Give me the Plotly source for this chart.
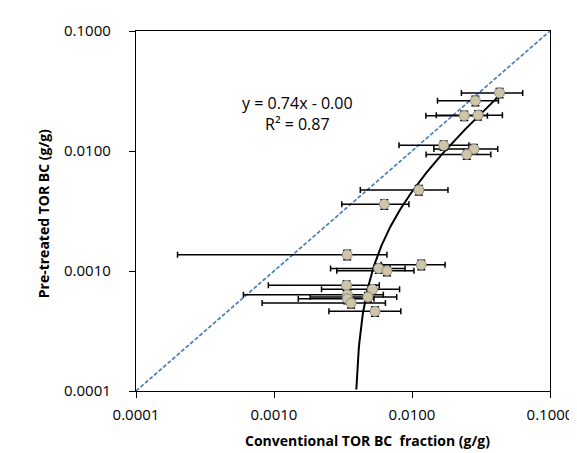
import numpy as np
import plotly.graph_objects as go

# Conventional TOR BC fraction (x) vs pre-treated TOR BC (y), g/g
conv_bc = [0.0431, 0.0288, 0.0239, 0.0301, 0.01695, 0.0281, 0.02495, 0.01122, 0.0063,
           0.00339, 0.01167, 0.00574, 0.00659, 0.00335, 0.00517, 0.0034, 0.00479,
           0.0034, 0.00362, 0.0054]
pretreated_bc = [0.0305, 0.0262, 0.0197, 0.0199, 0.01114, 0.01037, 0.00937, 0.00473, 0.0036,
                 0.001364, 0.001127, 0.001051, 0.001004, 0.000759, 0.000703, 0.000634, 0.000607,
                 0.000587, 0.000541, 0.000461]
conv_err = [0.0203, 0.0135, 0.0113, 0.0151, 0.0089, 0.0137, 0.0123, 0.0070, 0.0032,
            0.00319, 0.0057, 0.00317, 0.00374, 0.00244, 0.00296, 0.0028, 0.00296,
            0.0019, 0.0028, 0.0029]

# Linear trendline reported on the chart
fit_slope = 0.74
fit_intercept = -0.00282
fit_x_range = [0.00395, 0.0425]

tick_vals = [0.0001, 0.001, 0.01, 0.1]
tick_text = ["0.0001", "0.0010", "0.0100", "0.1000"]

font_family = "Open Sans, Noto Sans, Arial, sans-serif"

W, H = 577, 453
ML, MR, MT, MB = 128, 30, 22, 70
pw, ph = W - ML - MR, H - MT - MB


def px_x(px):
    # pixel column -> paper x
    return (px - ML) / pw


def px_y(py):
    # pixel row -> paper y
    return 1 - (py - MT) / ph


fig = go.Figure()

# 1:1 line
fig.add_trace(go.Scatter(
    x=[tick_vals[0], tick_vals[-1]], y=[tick_vals[0], tick_vals[-1]],
    mode="lines", line=dict(color="#4A7EBB", width=1.7, dash="4px,2px"),
    showlegend=False, hoverinfo="skip"))

# trendline y = a*x + b
fx = np.logspace(np.log10(fit_x_range[0]), np.log10(fit_x_range[1]), 300)
fig.add_trace(go.Scatter(
    x=fx, y=fit_slope * fx + fit_intercept,
    mode="lines", line=dict(color="black", width=2),
    showlegend=False, hoverinfo="skip"))

# data points with error bars
fig.add_trace(go.Scatter(
    x=conv_bc, y=pretreated_bc, mode="markers",
    marker=dict(size=10, color="#CEC6A6", line=dict(color="#8C8C8C", width=1)),
    error_x=dict(type="data", array=conv_err, color="black", thickness=1.5, width=3),
    error_y=dict(type="percent", value=9, color="black", thickness=1.5, width=4),
    showlegend=False))

axis_common = dict(
    type="log", tickvals=tick_vals, ticktext=tick_text,
    showgrid=False, zeroline=False, showline=True, linecolor="black", linewidth=1.3,
    mirror=True, ticks="outside", ticklen=6, tickcolor="black", tickwidth=1.3,
    range=[-4, -1], tickfont=dict(size=15, color="black", family=font_family),
)

fig.update_layout(
    width=W, height=H,
    margin=dict(l=ML, r=MR, t=MT, b=MB),
    paper_bgcolor="white", plot_bgcolor="white",
    font=dict(family=font_family, color="black"),
    xaxis=dict(axis_common, ticklabelstandoff=4),
    yaxis=dict(axis_common, ticklabelstandoff=15),
    annotations=[
        dict(text="y = 0.74x - 0.00<br>R² = 0.87", x=px_x(291), y=px_y(81),
             xref="paper", yref="paper", showarrow=False,
             font=dict(size=16, color="black"), align="center"),
        dict(text="<b>Conventional TOR BC  fraction (g/g)</b>", x=px_x(362), y=px_y(443),
             xref="paper", yref="paper", showarrow=False, borderpad=0,
             font=dict(size=14, color="black")),
        dict(text="<b>Pre-treated TOR BC (g/g)</b>", x=px_x(23), y=px_y(205),
             xref="paper", yref="paper", showarrow=False, textangle=-90,
             font=dict(size=14, color="black")),
    ],
)

fig.write_html("out.html")
